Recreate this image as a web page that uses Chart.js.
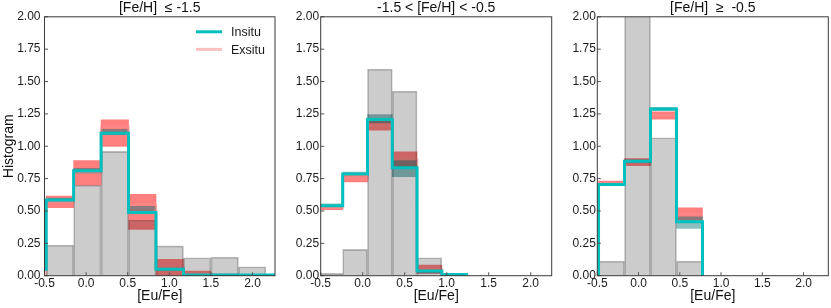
<!DOCTYPE html>
<html>
<head>
<meta charset="utf-8">
<script src="https://cdn.jsdelivr.net/npm/chart.js@4.4.1/dist/chart.umd.min.js"></script>
<style>
    html, body { margin: 0; padding: 0; background: #fff; }
    body { width: 831px; height: 308px; position: relative; overflow: hidden; }
    .panel { position: absolute; top: 0; height: 308px; }
</style>
</head>
<body>
<div class="panel" style="left:0px;width:280px"><canvas id="panel1"></canvas></div>
<div class="panel" style="left:291px;width:264px"><canvas id="panel2"></canvas></div>
<div class="panel" style="left:567px;width:264px"><canvas id="panel3"></canvas></div>
<script>

// ---- datos ----
const xTicks = [-0.5, 0.0, 0.5, 1.0, 1.5, 2.0];
const yTicks = [0, 0.25, 0.5, 0.75, 1.0, 1.25, 1.5, 1.75, 2.0];

// [Fe/H] <= -1.5
const bordes1 = [-0.81, -0.48, -0.15, 0.18, 0.51, 0.84, 1.17, 1.50, 1.83, 2.16, 2.49];
const gris1 = [0, 0.236, 0.70, 0.96, 0.43, 0.231, 0.139, 0.144, 0.069, 0];
const insitu1 = [0.05, 0.585, 0.81, 1.10, 0.488, 0.05, 0.005, 0.005, 0.005, 0.005];
const insituBajo1 = [0.04, 0.57, 0.788, 1.09, 0.48, 0.04, 0, 0, 0, 0];
const insituAlto1 = [0.06, 0.60, 0.83, 1.13, 0.536, 0.06, 0.01, 0.01, 0.01, 0.01];
const exsitu1 = [0, 0.57, 0.795, 1.15, 0.55, 0.06, 0.015, 0.005, 0, 0];
const exsituBajo1 = [0, 0.526, 0.70, 0.998, 0.357, 0, 0, 0, 0, 0];
const exsituAlto1 = [0, 0.615, 0.89, 1.204, 0.629, 0.126, 0.036, 0.012, 0, 0];

// -1.5 < [Fe/H] < -0.5
const bordes2 = [-0.533, -0.238, 0.057, 0.352, 0.647, 0.942, 1.237];
const gris2 = [0.018, 0.203, 1.596, 1.426, 0.139, 0];
const insitu2 = [0.54, 0.785, 1.207, 0.833, 0.036, 0.01];
const insituBajo2 = [0.535, 0.78, 1.18, 0.765, 0.02, 0];
const insituAlto2 = [0.555, 0.80, 1.245, 0.893, 0.045, 0.015];
const exsitu2 = [0.525, 0.75, 1.16, 0.90, 0.05, 0.002];
const exsituBajo2 = [0.51, 0.725, 1.125, 0.84, 0.018, 0];
const exsituAlto2 = [0.54, 0.775, 1.20, 0.957, 0.082, 0.005];

// [Fe/H] >= -0.5
const bordes3 = [-0.485, -0.17, 0.145, 0.46, 0.775];
const gris3 = [0.113, 2.3, 1.066, 0.113];
const insitu3 = [0.705, 0.885, 1.287, 0.417];
const insituBajo3 = [0.695, 0.87, 1.275, 0.365];
const insituAlto3 = [0.715, 0.895, 1.30, 0.455];
const exsitu3 = [0.715, 0.875, 1.24, 0.475];
const exsituBajo3 = [0.70, 0.85, 1.21, 0.43];
const exsituAlto3 = [0.73, 0.905, 1.265, 0.524];

const titulos = ["[Fe/H]  \u2264 -1.5", "-1.5 < [Fe/H] < -0.5", "[Fe/H]  \u2265  -0.5"];

// ---- estilos ----
const FUENTE = '"Liberation Sans", Arial, sans-serif';
const CIAN = "#00bfbf";
Chart.defaults.font.family = FUENTE;
Chart.defaults.color = "#1a1a1a";

function centros(bordes) {
    return bordes.slice(0, -1).map((b, i) => (b + bordes[i + 1]) / 2);
}

function escalones(bordes, valores, cerrar) {
    const pts = valores.map((v, i) => ({ x: bordes[i], y: v }));
    pts.push({ x: bordes[bordes.length - 1], y: valores[valores.length - 1] });
    if (cerrar) {
        pts.unshift({ x: bordes[0], y: 0 });
        pts.push({ x: bordes[bordes.length - 1], y: 0 });
    }
    return pts;
}

function barras(bordes, valores) {
    return centros(bordes).map((c, i) => ({ x: c, y: valores[i] }));
}

function bandas(bordes, bajo, alto) {
    return centros(bordes).map((c, i) => ({ x: c, y: [bajo[i], alto[i]] }));
}

// marco y marcas hacia dentro
const marco = {
    id: "marco",
    afterDatasetsDraw(chart) {
        const { ctx, chartArea: a, scales } = chart;
        ctx.save();
        ctx.strokeStyle = "#555";
        ctx.lineWidth = 1;
        ctx.beginPath();
        scales.x.ticks.forEach(t => {
            const px = scales.x.getPixelForValue(t.value);
            ctx.moveTo(px, a.bottom);
            ctx.lineTo(px, a.bottom - 3.5);
        });
        scales.y.ticks.forEach(t => {
            const py = scales.y.getPixelForValue(t.value);
            ctx.moveTo(a.left, py);
            ctx.lineTo(a.left + 3.5, py);
        });
        ctx.stroke();
        ctx.strokeStyle = "#3a3a3a";
        ctx.strokeRect(a.left, a.top, a.width, a.height);
        ctx.restore();
    }
};

const leyenda = {
    id: "leyenda",
    afterDraw(chart, args, opts) {
        if (!opts.display) return;
        const { ctx, chartArea } = chart;
        const items = chart.data.datasets.filter(d => d.enLeyenda);
        ctx.save();
        ctx.font = "12.5px " + FUENTE;
        ctx.textBaseline = "middle";
        items.forEach((d, i) => {
            const y = chartArea.top + 15 + i * 17.6;
            const x0 = chartArea.right - 79;
            ctx.strokeStyle = d.borderColor;
            ctx.lineWidth = 3;
            ctx.beginPath();
            ctx.moveTo(x0, y);
            ctx.lineTo(x0 + 26, y);
            ctx.stroke();
            ctx.fillStyle = "#1a1a1a";
            ctx.fillText(d.label, x0 + 35, y + 1);
        });
        ctx.restore();
    }
};

function crearPanel(id, p) {

    const datasets = [
        {
            type: "line", label: "Insitu", enLeyenda: true,
            data: escalones(p.bordes, p.insitu, true),
            stepped: true, borderColor: CIAN, borderWidth: 3,
            pointRadius: 0, fill: false, order: 0
        },
        {
            type: "bar", label: "todos",
            data: barras(p.bordes, p.gris),
            backgroundColor: "rgba(0,0,0,0.2)", borderColor: "rgba(0,0,0,0.26)",
            borderWidth: 1, grouped: false, barPercentage: 1, categoryPercentage: 1,
            order: 1
        },
        {
            type: "line", label: "Exsitu", enLeyenda: true,
            data: escalones(p.bordes, p.exsitu, false),
            stepped: true, borderColor: "rgba(255,140,140,0.55)", borderWidth: 2.5,
            pointRadius: 0, fill: false, order: 2
        },
        {
            type: "bar", label: "insitu banda",
            data: bandas(p.bordes, p.insituBajo, p.insituAlto),
            backgroundColor: "rgba(0,110,110,0.45)", borderWidth: 0,
            grouped: false, barPercentage: 1, categoryPercentage: 1, order: 3
        },
        {
            type: "bar", label: "exsitu banda",
            data: bandas(p.bordes, p.exsituBajo, p.exsituAlto),
            backgroundColor: "rgba(255,0,0,0.5)", borderWidth: 0,
            grouped: false, barPercentage: 1, categoryPercentage: 1, order: 4
        }
    ];

    return new Chart(document.getElementById(id), {
        type: "line",
        data: { datasets: datasets },
        plugins: [marco, leyenda],
        options: {
            responsive: true,
            maintainAspectRatio: false,
            animation: false,
            events: [],
            layout: { padding: { top: 0, left: 0, bottom: 0, right: p.padDerecha } },
            plugins: {
                legend: { display: false },
                tooltip: { enabled: false },
                title: {
                    display: true, text: p.titulo, fullSize: false,
                    font: { size: 14, weight: "normal" }, color: "#111",
                    padding: { top: 0, bottom: 0 }
                },
                leyenda: { display: p.conLeyenda }
            },
            scales: {
                x: {
                    type: "linear", min: p.xMin, max: p.xMax, offset: false,
                    afterBuildTicks: s => { s.ticks = xTicks.map(v => ({ value: v })); },
                    ticks: {
                        callback: v => v.toFixed(1), padding: 1, maxRotation: 0,
                        autoSkip: false, font: { size: 12 }, color: "#1a1a1a"
                    },
                    grid: { display: false, drawTicks: false, tickLength: 0 },
                    border: { display: false },
                    title: {
                        display: true, text: "[Eu/Fe]", font: { size: 14 }, color: "#111",
                        padding: { top: 0, bottom: 3 }
                    },
                    afterFit: s => { s.height = 32.3; }
                },
                y: {
                    type: "linear", min: 0, max: 2,
                    afterBuildTicks: s => { s.ticks = yTicks.map(v => ({ value: v })); },
                    ticks: {
                        callback: v => v.toFixed(2), padding: p.yPad,
                        font: { size: 12 }, color: "#1a1a1a"
                    },
                    grid: { display: false, drawTicks: false, tickLength: 0 },
                    border: { display: false },
                    title: {
                        display: p.conTituloY, text: "Histogram", font: { size: 14 }, color: "#111",
                        padding: { top: 1, bottom: 0 }
                    },
                    afterFit: s => { s.width = p.anchoY; }
                }
            }
        }
    });
}

crearPanel("panel1", {
    bordes: bordes1, gris: gris1, insitu: insitu1, insituBajo: insituBajo1, insituAlto: insituAlto1,
    exsitu: exsitu1, exsituBajo: exsituBajo1, exsituAlto: exsituAlto1,
    titulo: titulos[0], xMin: -0.5, xMax: 2.27,
    anchoY: 44.5, yPad: 4, padDerecha: 5, conTituloY: true, conLeyenda: true
});

crearPanel("panel2", {
    bordes: bordes2, gris: gris2, insitu: insitu2, insituBajo: insituBajo2, insituAlto: insituAlto2,
    exsitu: exsitu2, exsituBajo: exsituBajo2, exsituAlto: exsituAlto2,
    titulo: titulos[1], xMin: -0.5, xMax: 2.25,
    anchoY: 29.7, yPad: 1.5, padDerecha: 3.3, conTituloY: false, conLeyenda: false
});

crearPanel("panel3", {
    bordes: bordes3, gris: gris3, insitu: insitu3, insituBajo: insituBajo3, insituAlto: insituAlto3,
    exsitu: exsitu3, exsituBajo: exsituBajo3, exsituAlto: exsituAlto3,
    titulo: titulos[2], xMin: -0.5, xMax: 2.3,
    anchoY: 30.3, yPad: 1.5, padDerecha: 2.7, conTituloY: false, conLeyenda: false
});

</script>
</body>
</html>
